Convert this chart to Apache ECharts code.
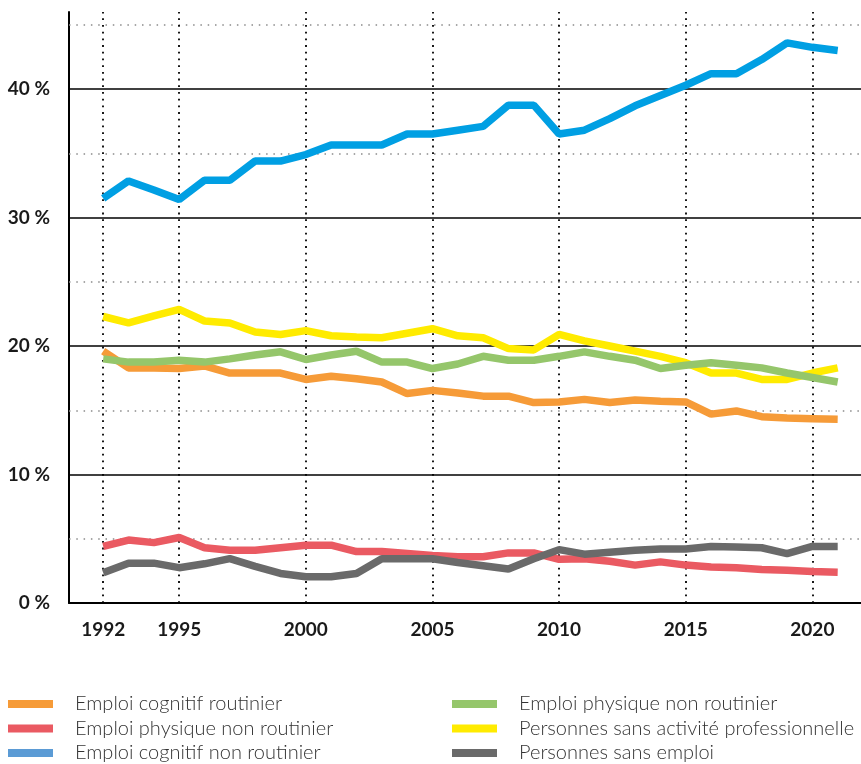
<!DOCTYPE html>
<html>
<head>
<meta charset="utf-8">
<script src="https://cdn.jsdelivr.net/npm/echarts@6/dist/echarts.min.js"></script>
<style>
  html, body { margin: 0; padding: 0; background: #fff; }
  #chart { width: 861px; height: 764px; }
</style>
</head>
<body>
<div id="chart"></div>
<script>
// années 1992 -> 2021
var years = [];
for (var y = 1992; y <= 2021; y++) years.push(y);

var yearTicks = [1992, 1995, 2000, 2005, 2010, 2015, 2020];
var solidLevels = [10, 20, 30, 40];
var dottedLevels = [5, 15, 25, 35, 45];

// parts en %
var cognitifRoutinier = [19.6, 18.3, 18.3, 18.25, 18.45, 17.9, 17.9, 17.9, 17.4, 17.65, 17.45, 17.2, 16.3, 16.55, 16.35, 16.1, 16.1, 15.6, 15.65, 15.85, 15.6, 15.8, 15.7, 15.65, 14.7, 14.95, 14.5, 14.4, 14.35, 14.3];
var physiqueNonRoutinierRouge = [4.4, 4.9, 4.7, 5.1, 4.3, 4.1, 4.1, 4.3, 4.5, 4.5, 4.0, 4.0, 3.85, 3.7, 3.6, 3.6, 3.9, 3.9, 3.4, 3.45, 3.25, 2.95, 3.2, 2.95, 2.8, 2.75, 2.6, 2.55, 2.45, 2.4];
var cognitifNonRoutinier = [31.5, 32.85, 32.15, 31.4, 32.9, 32.9, 34.4, 34.4, 34.9, 35.65, 35.65, 35.65, 36.5, 36.5, 36.8, 37.1, 38.75, 38.75, 36.5, 36.8, 37.7, 38.7, 39.5, 40.3, 41.2, 41.2, 42.3, 43.6, 43.25, 43.0];
var physiqueNonRoutinierVert = [19.0, 18.75, 18.75, 18.9, 18.75, 19.0, 19.3, 19.55, 18.95, 19.3, 19.6, 18.75, 18.75, 18.25, 18.6, 19.2, 18.9, 18.9, 19.2, 19.55, 19.2, 18.9, 18.25, 18.5, 18.7, 18.5, 18.3, 17.9, 17.55, 17.2];
var sansActivite = [22.3, 21.8, 22.35, 22.85, 21.95, 21.8, 21.1, 20.9, 21.2, 20.8, 20.7, 20.65, 21.0, 21.35, 20.8, 20.65, 19.8, 19.7, 20.9, 20.4, 20.0, 19.6, 19.2, 18.7, 17.9, 17.9, 17.4, 17.4, 17.9, 18.3];
var sansEmploi = [2.35, 3.1, 3.1, 2.75, 3.05, 3.45, 2.85, 2.3, 2.05, 2.05, 2.3, 3.45, 3.45, 3.45, 3.15, 2.9, 2.65, 3.45, 4.15, 3.8, 3.95, 4.1, 4.2, 4.2, 4.4, 4.35, 4.3, 3.85, 4.4, 4.4];

var names = [
    'Emploi cognitif routinier',
    'Emploi physique non routinier',
    'Emploi cognitif non routinier',
    'Emploi physique non routinier ',
    'Personnes sans activité professionnelle',
    'Personnes sans emploi'
];

function pairs(values) {
    return values.map(function (v, i) { return [years[i], v]; });
}

function lineSeries(name, values, color) {
    return {
        name: name,
        type: 'line',
        data: pairs(values),
        showSymbol: false,
        symbol: 'none',
        z: 3,
        color: color,
        lineStyle: { width: 7.5, color: color },
        emphasis: { disabled: true }
    };
}

var myChart = echarts.init(document.getElementById('chart'));

var gridLines = [];
solidLevels.forEach(function (v) {
    gridLines.push({ yAxis: v, lineStyle: { color: '#000', width: 1.5, type: 'solid' } });
});
dottedLevels.forEach(function (v) {
    gridLines.push({ yAxis: v, lineStyle: { color: '#8a8a8a', width: 1.5, type: [1.5, 5.8] } });
});
yearTicks.forEach(function (v) {
    gridLines.push({ xAxis: v, lineStyle: { color: '#000', width: 1.8, type: [1.8, 4.9] } });
});

var legendText = {
    color: '#333',
    fontFamily: 'Lato',
    fontWeight: 300,
    fontSize: 20,
    lineHeight: 20,
    padding: [0, 0, 0, 17]
};

function legendBlock(left, items) {
    return {
        orient: 'vertical',
        left: left,
        top: 694,
        width: 400,
        height: 70,
        padding: 0,
        icon: 'rect',
        itemWidth: 45,
        itemHeight: 8,
        itemGap: 4.5,
        selectedMode: false,
        textStyle: legendText,
        data: items
    };
}

var option = {
    animation: false,
    backgroundColor: '#fff',
    grid: { left: 69, right: 0, top: 12, bottom: 161 },
    xAxis: {
        type: 'value',
        min: 1990.65,
        max: 2021.92,
        axisLine: { show: true, onZero: false, lineStyle: { color: '#000', width: 2 } },
        axisTick: { show: false },
        splitLine: { show: false },
        axisLabel: {
            customValues: yearTicks,
            margin: 17,
            color: '#1a1a1a',
            fontFamily: 'Lato',
            fontWeight: 'bold',
            fontSize: 19,
            formatter: function (v) { return String(v); }
        }
    },
    yAxis: {
        type: 'value',
        min: 0,
        max: 46,
        interval: 10,
        axisLine: { show: true, lineStyle: { color: '#000', width: 2 } },
        axisTick: { show: false },
        splitLine: { show: false },
        axisLabel: {
            margin: 19,
            color: '#1a1a1a',
            fontFamily: 'Lato',
            fontWeight: 'bold',
            fontSize: 19,
            formatter: function (v) { return v % 10 === 0 ? v + ' %' : ''; }
        }
    },
    legend: [
        legendBlock(8, [
            { name: names[0] },
            { name: names[1] },
            { name: names[2], itemStyle: { color: '#5b9bd5' } }
        ]),
        legendBlock(452, [
            { name: names[3] },
            { name: names[4] },
            { name: names[5] }
        ])
    ],
    series: [
        {
            name: 'grille',
            type: 'line',
            data: [],
            z: 1,
            silent: true,
            markLine: {
                silent: true,
                z: 1,
                symbol: ['none', 'none'],
                label: { show: false },
                emphasis: { disabled: true },
                data: gridLines
            }
        },
        lineSeries(names[0], cognitifRoutinier, '#f69b38'),
        lineSeries(names[1], physiqueNonRoutinierRouge, '#ea5a62'),
        lineSeries(names[2], cognitifNonRoutinier, '#009fe3'),
        lineSeries(names[4], sansActivite, '#ffeb00'),
        lineSeries(names[3], physiqueNonRoutinierVert, '#95c66b'),
        lineSeries(names[5], sansEmploi, '#6a6a6a')
    ]
};

myChart.setOption(option);
</script>
</body>
</html>
